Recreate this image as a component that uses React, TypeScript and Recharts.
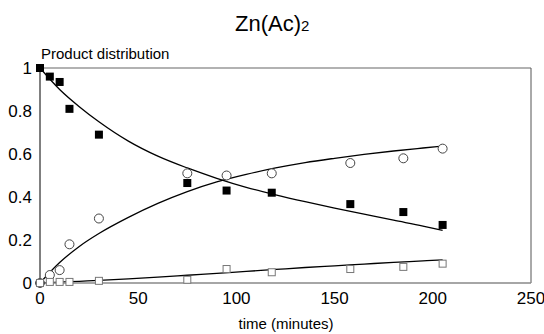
import { ComposedChart, Line, Scatter, XAxis, YAxis, ReferenceLine } from 'recharts';

const times = [0, 5, 10, 15, 30, 75, 95, 118, 158, 185, 205];
const reactant = [1.0, 0.96, 0.935, 0.81, 0.69, 0.465, 0.43, 0.42, 0.367, 0.33, 0.27];
const product = [0, 0.037, 0.06, 0.18, 0.3, 0.51, 0.5, 0.51, 0.558, 0.58, 0.625];
const byproduct = [0, 0.005, 0.005, 0.005, 0.01, 0.015, 0.065, 0.05, 0.065, 0.075, 0.09];

const fitTimes = [0, 10, 20, 30, 45, 60, 75, 90, 105, 120, 135, 150, 165, 180, 195, 205];
const fitReactant = [1, 0.9, 0.82, 0.75, 0.66, 0.59, 0.535, 0.487, 0.445, 0.41, 0.378, 0.348, 0.32, 0.292, 0.265, 0.245];
const fitProduct = [0, 0.095, 0.17, 0.23, 0.305, 0.37, 0.425, 0.47, 0.505, 0.535, 0.56, 0.58, 0.598, 0.614, 0.628, 0.637];
const fitByproduct = [0, 0.004, 0.008, 0.012, 0.019, 0.027, 0.036, 0.045, 0.054, 0.063, 0.072, 0.08, 0.088, 0.096, 0.103, 0.108];

const xTicks = [0, 50, 100, 150, 200, 250];
const yTicks = [0, 0.2, 0.4, 0.6, 0.8, 1];

const pts = (ys: number[]) => times.map((t, i) => ({ t, v: ys[i] }));
const fit = (ys: number[]) => fitTimes.map((t, i) => ({ t, v: ys[i] }));

const font = '"Liberation Sans", Arial, sans-serif';

const FilledSquare = (p: any) => <rect x={p.cx - 4} y={p.cy - 4} width={8} height={8} fill="#000" />;
const OpenCircle = (p: any) => <circle cx={p.cx} cy={p.cy} r={4.5} fill="#fff" stroke="#444" strokeWidth={1} />;
const OpenSquare = (p: any) => (
  <rect x={p.cx - 3.5} y={p.cy - 3.5} width={7} height={7} fill="#fff" stroke="#777" strokeWidth={1} />
);

export default function App() {
  return (
    <div style={{ position: 'absolute', left: 0, top: 0, width: 544, height: 334, background: '#fff' }}>
      <ComposedChart width={544} height={334} margin={{ top: 68, right: 13, bottom: 26, left: 0 }}>
        <XAxis
          dataKey="t"
          type="number"
          domain={[0, 250]}
          ticks={xTicks}
          tickSize={0}
          tickMargin={9}
          height={25}
          stroke="#888"
          strokeWidth={1.5}
          tick={{ fill: '#000', fontSize: 17, fontFamily: font }}
        />
        <YAxis
          type="number"
          domain={[0, 1]}
          ticks={yTicks}
          tickSize={0}
          tickMargin={8}
          width={40}
          stroke="#000"
          tick={{ fill: '#000', fontSize: 17, fontFamily: font }}
        />
        <ReferenceLine y={1} stroke="#999" strokeWidth={1.5} />
        <ReferenceLine x={250} stroke="#555" strokeWidth={1} />
        <Line data={fit(fitReactant)} dataKey="v" type="monotone" stroke="#000" strokeWidth={1.3} dot={false} isAnimationActive={false} />
        <Line data={fit(fitProduct)} dataKey="v" type="monotone" stroke="#000" strokeWidth={1.3} dot={false} isAnimationActive={false} />
        <Line data={fit(fitByproduct)} dataKey="v" type="monotone" stroke="#000" strokeWidth={1.3} dot={false} isAnimationActive={false} />
        <Scatter data={pts(reactant)} dataKey="v" shape={FilledSquare} isAnimationActive={false} />
        <Scatter data={pts(product)} dataKey="v" shape={OpenCircle} isAnimationActive={false} />
        <Scatter data={pts(byproduct)} dataKey="v" shape={OpenSquare} isAnimationActive={false} />
      </ComposedChart>
      <svg width={544} height={334} style={{ position: 'absolute', left: 0, top: 0, pointerEvents: 'none' }}>
        <text x={235} y={31} fontSize={22} fontFamily={font} fill="#000">
          Zn(Ac)<tspan fontSize={15}>2</tspan>
        </text>
        <text x={41} y={59} fontSize={15} fontFamily={font} fill="#000">Product distribution</text>
        <text x={286} y={329} fontSize={15} fontFamily={font} fill="#000" textAnchor="middle">time (minutes)</text>
      </svg>
    </div>
  );
}
